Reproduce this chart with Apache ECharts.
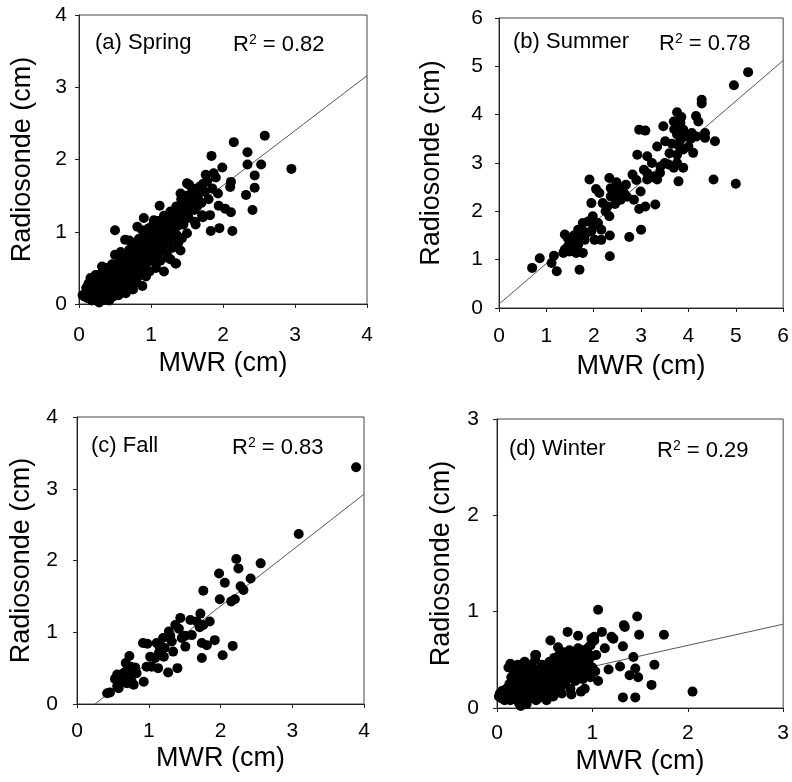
<!DOCTYPE html>
<html><head><meta charset="utf-8">
<script src="https://cdn.jsdelivr.net/npm/echarts@6/dist/echarts.min.js"></script>
<style>html,body{margin:0;padding:0;background:#fff}#c{width:792px;height:782px}</style>
</head><body><div id="c"></div>
<script>
// ---- Data ----
const springPts = [
[2.95,1.87],[2.58,2.33],[2.15,2.24],[2.34,2.10],[2.34,1.93],[2.53,1.93],[2.44,1.78],[2.44,1.61],[2.32,1.51],[2.41,1.30],
[2.13,1.01],[2.11,1.27],[2.03,1.32],[1.94,1.36],[1.95,1.05],[1.83,1.01],[1.84,2.05],[1.99,1.89],[2.11,1.69],[2.10,1.62],
[1.93,1.53],[1.82,1.23],[1.71,1.23],[1.61,1.14],[1.43,0.91],[1.41,0.74],[1.35,0.56],[1.27,0.62],[1.18,0.45],[1.76,1.79],
[1.87,1.81],[1.72,1.66],[1.62,1.53],[1.50,1.67],[1.41,1.53],[1.48,1.38],[1.12,1.36],[0.50,1.02],[0.50,0.68],[0.32,0.52],
[0.64,0.89],[0.81,1.07],[0.90,1.19],[1.04,1.16],[1.22,0.98],[1.04,0.86],[1.53,1.65],[1.25,0.63],[1.34,0.56],
[0.05,0.12],[0.08,0.10],[0.10,0.15],[0.12,0.08],[0.15,0.20],[0.17,0.12],[0.20,0.25],[0.20,0.10],[0.22,0.18],[0.25,0.30],
[0.25,0.08],[0.27,0.15],[0.28,0.22],[0.30,0.05],[0.30,0.35],[0.32,0.12],[0.33,0.28],[0.35,0.06],[0.35,0.20],[0.37,0.40],
[0.38,0.10],[0.40,0.30],[0.40,0.15],[0.42,0.05],[0.42,0.45],[0.44,0.22],[0.45,0.35],[0.47,0.10],[0.48,0.28],[0.50,0.40],
[0.50,0.18],[0.52,0.55],[0.53,0.30],[0.55,0.12],[0.55,0.45],[0.57,0.25],[0.58,0.60],[0.60,0.38],[0.60,0.20],[0.62,0.50],
[0.63,0.30],[0.65,0.68],[0.65,0.15],[0.67,0.42],[0.68,0.55],[0.70,0.25],[0.70,0.75],[0.72,0.48],[0.73,0.35],[0.75,0.62],
[0.75,0.20],[0.77,0.82],[0.78,0.45],[0.80,0.55],[0.80,0.30],[0.82,0.70],[0.83,0.90],[0.85,0.40],[0.85,0.60],[0.87,0.78],
[0.88,0.25],[0.90,0.50],[0.90,0.95],[0.92,0.68],[0.93,0.38],[0.95,0.85],[0.95,0.58],[0.97,1.05],[0.98,0.45],[1.00,0.72],
[1.00,0.92],[1.02,0.60],[1.03,1.10],[1.05,0.80],[1.07,0.50],[1.08,0.98],[1.10,0.70],[1.10,1.15],[1.12,0.88],[1.13,0.60],
[1.15,1.05],[1.17,0.80],[1.18,1.22],[1.20,0.95],[1.22,0.70],[1.23,1.12],[1.25,0.88],[1.27,1.28],[1.28,1.00],[1.30,0.78],
[1.32,1.18],[1.33,0.95],[1.35,1.35],[1.37,1.08],[1.38,0.85],[1.40,1.25],[1.42,1.45],[1.45,1.10],[1.47,1.30],[1.50,1.50],
[1.50,0.98],[1.52,1.20],[1.55,1.40],[1.57,1.60],[1.60,1.30],[1.62,1.10],[1.65,1.48],[1.67,1.62],[1.70,1.40],[1.72,1.20],
[1.75,1.55],[1.78,1.70],[1.80,1.45],[1.85,1.60],[1.90,1.75],
[0.15,0.30],[0.18,0.05],[0.23,0.40],[0.28,0.02],[0.33,0.45],[0.36,0.32],[0.45,0.15],[0.50,0.28],[0.55,0.35],[0.60,0.55],
[0.65,0.45],[0.68,0.30],[0.72,0.60],[0.78,0.68],[0.85,0.50],[0.90,0.72],[0.95,0.70],[1.00,0.82],[1.05,0.95],[0.10,0.22],
[0.13,0.28],[0.20,0.33],[0.26,0.40],[0.24,0.20],[0.16,0.36],[0.38,0.50],[0.46,0.55],[0.58,0.72],[0.70,0.88],[0.88,1.02],
[0.43,0.38],[0.48,0.48],[0.53,0.42],[0.57,0.50],[0.62,0.62],[0.66,0.55],[0.69,0.40],[0.73,0.70],[0.76,0.52],[0.79,0.78],
[0.82,0.62],[0.84,0.85],[0.86,0.68],[0.89,0.88],[0.92,0.78],[0.94,0.98],[0.96,0.65],[0.99,0.88],[1.01,1.00],[1.04,0.72],
[1.06,1.05],[1.09,0.85],[1.11,0.98],[1.14,0.75],[1.16,1.12],[1.19,0.88],[1.21,1.05],[1.24,1.20],[1.26,0.95],[1.29,1.12],
[1.31,1.02],[1.34,1.25],[1.36,0.95],[1.39,1.15],[1.43,1.22],[1.46,1.40],[1.49,1.18],[1.54,1.30],[1.58,1.45],[1.64,1.35],
[0.32,0.20],[0.36,0.25],[0.41,0.22],[0.46,0.32],[0.51,0.22],[0.58,0.32],[0.63,0.40],[0.76,0.36],[0.81,0.44],[0.92,0.55]
];
const summerPts = [
[5.26,4.88],[4.96,4.61],[4.28,4.31],[4.28,4.23],[4.16,3.97],[4.21,3.86],[3.76,4.05],[3.69,3.86],[3.83,3.83],[3.47,3.76],
[2.96,3.69],[3.09,3.67],[3.51,3.45],[3.34,3.34],[3.76,3.59],[3.83,3.48],[3.89,3.69],[4.07,3.62],[4.17,3.55],[4.35,3.62],
[4.35,3.52],[4.56,3.45],[4.00,3.34],[4.10,3.21],[3.89,3.28],[3.76,3.17],[3.76,3.00],[3.89,2.90],[3.69,2.90],[3.58,2.97],
[3.41,2.93],[3.27,2.72],[3.34,2.66],[3.13,2.66],[3.13,2.79],[3.06,2.86],[3.13,3.14],[2.92,3.17],[3.23,3.00],[3.79,2.62],
[4.53,2.66],[5.00,2.57],[3.30,2.14],[3.09,2.10],[2.96,2.05],[2.99,2.41],[2.85,2.24],[2.82,2.76],[2.68,2.55],[2.64,2.38],
[2.57,2.24],[2.50,2.52],[2.36,2.48],[2.33,2.69],[2.43,2.31],[2.29,2.10],[2.33,1.90],[2.36,2.31],[2.12,2.38],[2.05,2.46],
[1.91,2.66],[2.19,2.17],[1.98,1.90],[2.09,1.76],[2.16,1.62],[1.95,1.59],[2.02,1.41],[2.16,1.41],[1.88,1.79],[1.77,1.76],
[1.77,1.59],[1.67,1.62],[1.63,1.48],[1.56,1.41],[1.67,1.31],[1.53,1.24],[1.63,1.14],[1.46,1.28],[1.39,1.52],[1.39,1.21],
[1.36,1.14],[1.49,1.17],[1.81,1.41],[1.77,1.14],[2.34,1.50],[2.34,1.07],[2.75,1.47],[3.00,1.62],[1.70,0.79],[1.22,0.76],
[1.16,1.08],[1.11,0.93],[0.86,1.03],[0.70,0.83],[1.95,2.17],[1.58,1.50],[1.72,1.45],[1.60,1.35],[1.85,1.55],[2.00,1.70],
[2.25,2.00],[2.45,2.15],[2.55,2.40],[2.60,2.30],[2.70,2.30],[3.20,2.70],[3.50,3.00],[3.60,3.20],[3.65,3.40],[3.80,3.35],
[3.95,3.55],[3.70,3.70],[3.85,3.95],[4.05,3.50],[3.40,2.80],[2.90,2.65],[2.48,2.60],[1.50,1.35],[1.45,1.45],[1.70,1.55]
];
const fallPts = [
[3.89,3.30],[3.09,2.37],[2.56,1.96],[2.22,2.02],[2.25,1.89],[1.98,1.82],[2.06,1.69],[2.42,1.75],[2.28,1.64],[2.32,1.59],
[1.76,1.58],[1.99,1.46],[2.20,1.46],[2.15,1.43],[1.72,1.26],[1.85,1.15],[1.58,1.17],[1.67,1.15],[1.44,1.20],[1.37,1.10],
[1.71,1.07],[1.76,1.10],[1.60,0.96],[1.48,0.94],[1.46,0.92],[1.28,1.01],[1.32,0.87],[1.20,0.92],[1.11,0.85],[1.15,0.80],
[1.14,0.71],[1.34,0.73],[1.21,0.66],[1.09,0.64],[1.02,0.66],[0.97,0.52],[1.04,0.52],[1.13,0.50],[1.27,0.44],[1.40,0.50],
[0.92,0.85],[0.98,0.84],[1.51,0.80],[1.74,0.85],[1.81,0.82],[1.92,0.89],[2.03,0.68],[2.17,0.81],[1.74,0.64],[1.51,0.95],
[0.73,0.67],[0.81,0.51],[0.68,0.57],[0.74,0.45],[0.65,0.43],[0.56,0.41],[0.53,0.35],[0.65,0.36],[0.72,0.38],[0.76,0.32],
[0.60,0.29],[0.56,0.25],[0.79,0.27],[0.93,0.31],[0.83,0.43],[0.58,0.22],[0.42,0.15],[0.46,0.16],[0.70,0.29],[0.59,0.34],
[0.68,0.45],[0.62,0.40],[0.75,0.52],[0.66,0.30],[1.42,1.05],[1.22,0.78],[1.30,0.95]
];
const winterPts = [
[2.05,0.17],[1.75,0.76],[1.47,0.95],[1.49,0.76],[1.33,0.86],[1.34,0.84],[1.06,1.02],[1.10,0.79],[1.22,0.72],[1.20,0.74],
[1.13,0.62],[1.32,0.64],[1.43,0.53],[1.65,0.45],[1.62,0.24],[1.48,0.32],[1.39,0.34],[1.45,0.41],[1.29,0.43],[1.32,0.11],
[1.45,0.11],[1.17,0.40],[1.06,0.28],[0.98,0.32],[0.92,0.20],[0.88,0.17],[0.78,0.14],[0.85,0.75],[0.74,0.79],[0.64,0.63],
[0.56,0.70],[0.41,0.55],[0.99,0.72],[1.02,0.74],[0.95,0.62],[1.00,0.54],
[0.02,0.12],[0.03,0.15],[0.05,0.10],[0.06,0.18],[0.08,0.13],[0.08,0.08],[0.10,0.20],[0.10,0.11],[0.12,0.15],[0.13,0.25],
[0.14,0.08],[0.15,0.32],[0.16,0.18],[0.17,0.12],[0.18,0.38],[0.19,0.22],[0.20,0.28],[0.20,0.10],[0.22,0.45],[0.22,0.15],
[0.23,0.05],[0.24,0.32],[0.25,0.20],[0.25,0.02],[0.26,0.40],[0.27,0.10],[0.28,0.25],[0.29,0.48],[0.30,0.15],[0.30,0.35],
[0.31,0.04],[0.32,0.42],[0.33,0.20],[0.34,0.28],[0.35,0.10],[0.36,0.45],[0.37,0.32],[0.38,0.15],[0.38,0.38],[0.40,0.22],
[0.40,0.50],[0.41,0.08],[0.42,0.30],[0.43,0.40],[0.44,0.18],[0.45,0.35],[0.46,0.12],[0.47,0.45],[0.48,0.25],[0.49,0.38],
[0.50,0.15],[0.50,0.30],[0.52,0.42],[0.52,0.08],[0.53,0.22],[0.54,0.35],[0.55,0.48],[0.56,0.18],[0.57,0.30],[0.58,0.42],
[0.59,0.12],[0.60,0.25],[0.60,0.52],[0.61,0.38],[0.62,0.45],[0.63,0.20],[0.64,0.32],[0.65,0.55],[0.66,0.28],[0.67,0.40],
[0.68,0.15],[0.69,0.48],[0.70,0.35],[0.70,0.58],[0.71,0.25],[0.72,0.45],[0.73,0.52],[0.74,0.30],[0.75,0.40],[0.76,0.60],
[0.77,0.20],[0.78,0.50],[0.79,0.35],[0.80,0.45],[0.80,0.58],[0.82,0.28],[0.83,0.52],[0.84,0.42],[0.85,0.62],[0.86,0.35],
[0.87,0.50],[0.88,0.45],[0.90,0.30],[0.90,0.60],[0.92,0.40],[0.93,0.55],[0.95,0.35],[0.96,0.48],[0.98,0.65],[1.00,0.42],
[1.02,0.70],[1.03,0.38],[1.04,0.55],[0.12,0.42],[0.20,0.40],[0.31,0.43],[0.40,0.55],[0.14,0.46],[0.27,0.30],
[0.34,0.38],[0.39,0.28],[0.44,0.28],[0.46,0.40],[0.51,0.36],[0.55,0.26],[0.58,0.36],[0.62,0.30],[0.65,0.42],[0.68,0.35],
[0.71,0.42],[0.74,0.46],[0.77,0.40],[0.79,0.55],[0.82,0.48],[0.84,0.56],[0.87,0.42],[0.89,0.55],[0.93,0.48],[0.57,0.20],
[0.66,0.20],[0.72,0.30],[0.48,0.18],[0.36,0.18],[0.29,0.20],[0.18,0.28],[0.07,0.16],[0.43,0.10],[0.61,0.15],[0.53,0.14]
];
const panelLabels = ['(a) Spring', '(b) Summer', '(c) Fall', '(d) Winter'];
const r2Values = ['0.82', '0.78', '0.83', '0.29'];
const axisMax = [4, 6, 4, 3];
const fitSlope = [0.76, 0.84, 0.78, 0.22];
const fitIntercept = [0.12, 0.08, -0.196, 0.21];
const fitRange = [[0.05, 4], [0, 6], [0.25, 4], [0, 3]];
const xTitle = 'MWR (cm)';
const yTitle = 'Radiosonde (cm)';

// ---- Layout ----
const FONT = 'Liberation Sans, Arial, sans-serif';
const grids = [
  {left: 79, top: 15, width: 288, height: 289},
  {left: 499, top: 18, width: 287, height: 290},
  {left: 77, top: 417, width: 287, height: 287},
  {left: 497, top: 419, width: 288, height: 289}
];
const yNameGap = [43, 54, 42, 42];
const xNameGap = [46, 45, 41, 40];
const xLabelMargin = [21, 18, 17, 15];
const yLabelMargin = [12, 16, 19, 18];
const labelPos = [[95, 45, 233], [513, 44, 659], [91, 448, 232], [509, 451, 657]];
const allPts = [springPts, summerPts, fallPts, winterPts];

const xAxes = [], yAxes = [], series = [], graphics = [];
grids.forEach((g, i) => {
  const common = {
    gridIndex: i, type: 'value', min: 0, max: axisMax[i], interval: 1,
    splitLine: {show: false},
    axisLine: {show: true, onZero: false, lineStyle: {color: '#222', width: 1}},
    axisTick: {show: true, length: 4, lineStyle: {color: '#222'}},
    nameLocation: 'middle',
    nameTextStyle: {fontFamily: FONT, fontSize: 27, color: '#000'}
  };
  xAxes.push(Object.assign({}, common, {
    name: xTitle, nameGap: xNameGap[i],
    axisLabel: {fontFamily: FONT, fontSize: 21, color: '#000', margin: xLabelMargin[i]}
  }));
  yAxes.push(Object.assign({}, common, {
    name: yTitle, nameGap: yNameGap[i],
    axisLabel: {fontFamily: FONT, fontSize: 21, color: '#000', margin: yLabelMargin[i]}
  }));
  const [x0, x1] = fitRange[i];
  series.push({
    type: 'line', xAxisIndex: i, yAxisIndex: i, symbol: 'none', z: 1, silent: true,
    lineStyle: {color: '#555', width: 1},
    data: [[x0, fitSlope[i] * x0 + fitIntercept[i]], [x1, fitSlope[i] * x1 + fitIntercept[i]]]
  });
  series.push({
    type: 'scatter', xAxisIndex: i, yAxisIndex: i, symbol: 'circle', symbolSize: 10, z: 2,
    itemStyle: {color: '#000', opacity: 1}, data: allPts[i]
  });
  const [lx, ly, rx] = labelPos[i];
  graphics.push({type: 'text', left: lx, top: ly - 13,
    style: {text: panelLabels[i], font: '22px ' + FONT, fill: '#000'}});
  graphics.push({type: 'text', left: rx, top: ly - 12,
    style: {text: 'R{s|2} = ' + r2Values[i], font: '22px ' + FONT, fill: '#000',
      rich: {s: {fontSize: 14, fontFamily: FONT, padding: [0, 0, 10, 0]}}}});
});

const chart = echarts.init(document.getElementById('c'), null, {renderer: 'canvas'});
chart.setOption({
  animation: false,
  backgroundColor: '#fff',
  grid: grids.map(g => Object.assign({show: true, borderColor: '#444', borderWidth: 1, containLabel: false}, g)),
  xAxis: xAxes, yAxis: yAxes, series: series, graphic: graphics
});
</script></body></html>
